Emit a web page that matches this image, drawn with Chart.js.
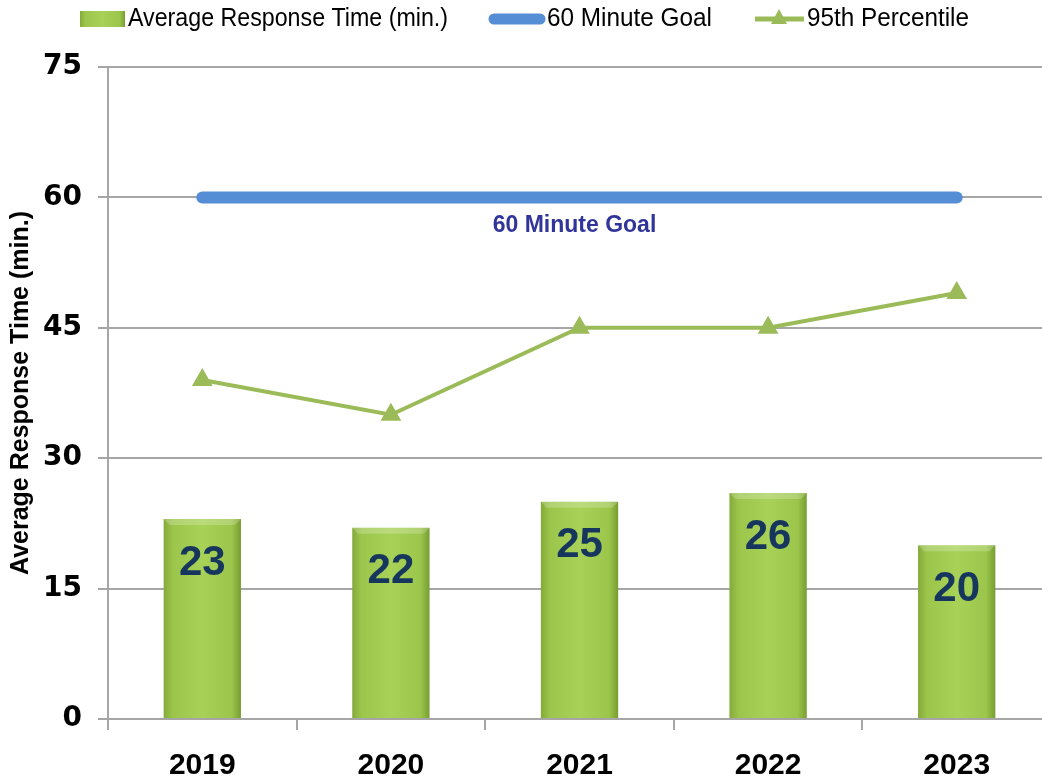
<!DOCTYPE html>
<html>
<head>
<meta charset="utf-8">
<title>Average Response Time</title>
<script src="https://cdn.jsdelivr.net/npm/chart.js@4.4.1/dist/chart.umd.min.js"></script>
<style>
html,body{margin:0;padding:0;background:#fff;overflow:hidden}
#wrap{width:1063px;height:782px}
</style>
</head>
<body>
<div id="wrap"><canvas id="rtChart"></canvas></div>
<script>
/* ====================================
   CHART DATA
==================================== */

const years=["2019","2020","2021","2022","2023"]
const avgResponse=[23,22,25,26,20]
const goalValues=[60,60,60,60,60]
const percentile95=[39,35,45,45,49]
const yTicks=[0,15,30,45,60,75]

const legendNames=["Average Response Time (min.)","60 Minute Goal","95th Percentile"]
const goalLabel="60 Minute Goal"

const green="#9BBB59"
const blue="#558ED5"
const navy="#17365D"
const grid="#A6A6A6"
const barPct=0.41


/* ====================================
   BAR GRADIENT HELPER
==================================== */

function barGradient(ctx,x0,x1){
const g=ctx.createLinearGradient(x0,0,x1,0)
g.addColorStop(0,"#84AA3A")
g.addColorStop(0.12,"#9CC64B")
g.addColorStop(0.5,"#A8D157")
g.addColorStop(0.88,"#9CC64B")
g.addColorStop(1,"#779D31")
return g
}

// scriptable fill, one gradient per bar
function barFill(context){
const chart=context.chart
if(!chart.chartArea)return green
const xs=chart.scales.x
const cx=xs.getPixelForValue(context.dataIndex)
const w=(xs.width/years.length)*barPct
return barGradient(chart.ctx,cx-w/2,cx+w/2)
}


/* ====================================
   PLUGIN: BAR BEVEL
==================================== */

const barShade={
id:"barShade",
afterDatasetDraw(chart,args){
if(args.index!==0)return
const ctx=chart.ctx
args.meta.data.forEach(bar=>{
const w=bar.width
// light bevel on top
ctx.save()
ctx.fillStyle="rgba(255,255,255,0.22)"
ctx.beginPath()
ctx.moveTo(bar.x-w/2,bar.y)
ctx.lineTo(bar.x+w/2,bar.y)
ctx.lineTo(bar.x+w/2-6,bar.y+6)
ctx.lineTo(bar.x-w/2+6,bar.y+6)
ctx.closePath()
ctx.fill()
ctx.restore()
})
}
}


/* ====================================
   PLUGIN: LABELS AND LEGEND
==================================== */

const textLayer={
id:"textLayer",
afterDatasetsDraw(chart){
const ctx=chart.ctx
ctx.save()

// numbers inside bars
ctx.fillStyle=navy
ctx.font="bold 42px 'Liberation Sans', Arial, sans-serif"
ctx.textAlign="center"
ctx.textBaseline="middle"
chart.getDatasetMeta(0).data.forEach((bar,i)=>{
ctx.fillText(String(avgResponse[i]),bar.x,bar.y+44)
})

// goal line label
const gp=chart.getDatasetMeta(1).data[2]
ctx.fillStyle="#31359A"
ctx.font="bold 23px 'Liberation Sans', Arial, sans-serif"
ctx.fillText(goalLabel,gp.x-5,gp.y+28)

ctx.restore()
},
afterDraw(chart){
const ctx=chart.ctx
ctx.save()
ctx.font="25px 'Liberation Sans', Arial, sans-serif"
ctx.fillStyle="#000"
ctx.textBaseline="middle"
ctx.textAlign="left"
const cy=19

// bar swatch
ctx.fillStyle=barGradient(ctx,80,125)
ctx.fillRect(80,11,45,16)
ctx.fillStyle="#000"
ctx.fillText(legendNames[0],128,cy,320)

// goal swatch
ctx.strokeStyle=blue
ctx.lineWidth=11
ctx.lineCap="round"
ctx.beginPath()
ctx.moveTo(494,cy)
ctx.lineTo(540,cy)
ctx.stroke()
ctx.fillText(legendNames[1],547,cy,165)

// 95th swatch
ctx.strokeStyle=green
ctx.lineWidth=5
ctx.lineCap="butt"
ctx.beginPath()
ctx.moveTo(755,cy)
ctx.lineTo(804,cy)
ctx.stroke()
ctx.fillStyle=green
ctx.beginPath()
ctx.moveTo(779,cy-10)
ctx.lineTo(787,cy+5)
ctx.lineTo(771,cy+5)
ctx.closePath()
ctx.fill()
ctx.fillStyle="#000"
ctx.fillText(legendNames[2],807,cy,162)

ctx.restore()
}
}


/* ====================================
   CREATE CHART
==================================== */

new Chart(document.getElementById("rtChart"),{

data:{
labels:years,
datasets:[
{
type:"bar",
label:legendNames[0],
data:avgResponse,
backgroundColor:barFill,
barPercentage:barPct,
categoryPercentage:1,
order:3
},
{
type:"line",
label:legendNames[1],
data:goalValues,
borderColor:blue,
borderWidth:12,
borderCapStyle:"round",
pointRadius:0,
order:2
},
{
type:"line",
label:legendNames[2],
data:percentile95,
borderColor:green,
borderWidth:4,
pointStyle:"triangle",
pointRadius:8,
pointBackgroundColor:green,
pointBorderColor:green,
order:1
}
]
},

options:{
responsive:true,
maintainAspectRatio:false,
animation:false,
layout:{padding:{top:67,right:4,bottom:0,left:0}},
plugins:{
legend:{display:false},
tooltip:{enabled:false}
},
scales:{
x:{
offset:true,
grid:{
offset:true,
drawOnChartArea:false,
color:grid,
lineWidth:2,
tickLength:11
},
border:{color:grid,width:2},
ticks:{
color:"#000",
padding:18,
font:{family:"'Liberation Sans', Arial, sans-serif",size:30,weight:"bold"}
},
afterFit(scale){scale.height=63}
},
y:{
min:0,
max:75,
afterBuildTicks(scale){scale.ticks=yTicks.map(v=>({value:v}))},
grid:{
color:grid,
lineWidth:2,
tickLength:10
},
border:{color:grid,width:2},
ticks:{
color:"#000",
padding:16,
font:{family:"'DejaVu Sans', Verdana, sans-serif",size:28,weight:"bold"}
},
title:{
display:true,
text:"Average Response Time (min.)",
color:"#000",
padding:{top:6,bottom:0},
font:{family:"'Liberation Sans', Arial, sans-serif",size:25,weight:"bold"}
},
afterFit(scale){scale.width=108}
}
}
},

plugins:[barShade,textLayer]

})
</script>
</body>
</html>
